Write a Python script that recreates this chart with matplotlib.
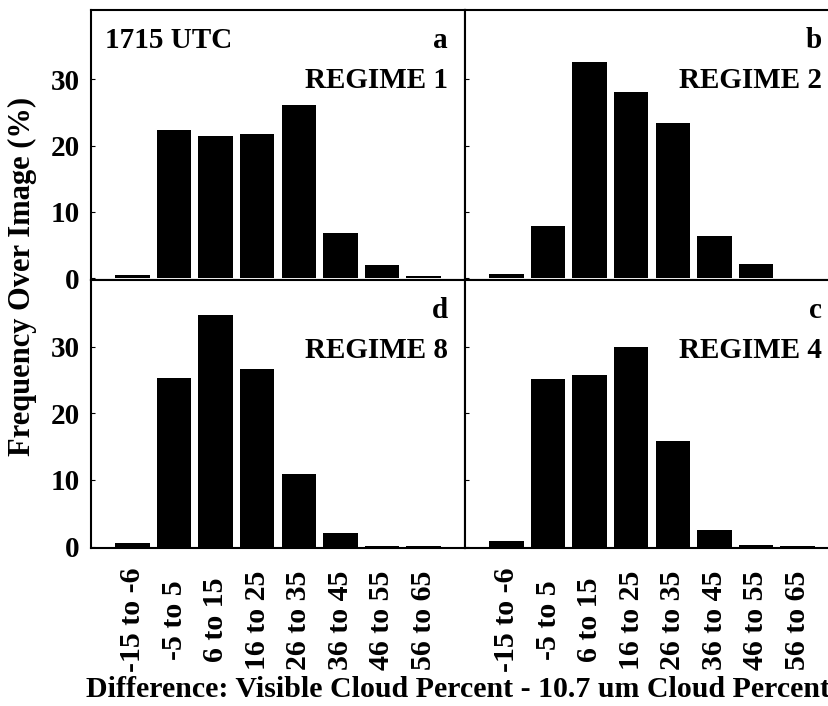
import numpy as np
import matplotlib
matplotlib.use("Agg")
from matplotlib import pyplot as plt

plt.rcParams['font.family'] = ['Liberation Serif', 'DejaVu Serif']
plt.rcParams['font.weight'] = 'bold'

# bins of the difference (visible minus 10.7 um cloud percent)
bins = ['-15 to -6', '-5 to 5', '6 to 15', '16 to 25',
        '26 to 35', '36 to 45', '46 to 55', '56 to 65']

# frequency over image (%) for each panel
regime1 = [0.5, 22.4, 21.5, 21.7, 26.2, 6.8, 1.9, 0.3]   # a
regime2 = [0.6, 7.9, 32.6, 28.1, 23.4, 6.3, 2.1, 0.05]   # b
regime8 = [0.5, 25.3, 34.8, 26.6, 10.9, 2.0, 0.05, 0.05]  # d
regime4 = [0.9, 25.2, 25.8, 29.9, 15.9, 2.5, 0.25, 0.05]  # c

yticks = [0, 10, 20, 30]

W, H = 829, 706
fig = plt.figure(figsize=(W / 100, H / 100), dpi=100)

def px_axes(x0, y_top, x1, y_bot):
    return fig.add_axes([x0 / W, 1 - y_bot / H, (x1 - x0) / W, (y_bot - y_top) / H])

ax_a = px_axes(91, 10, 465, 280)
ax_b = px_axes(465, 10, 839, 280)
ax_d = px_axes(91, 280, 465, 548)
ax_c = px_axes(465, 280, 839, 548)

panels = [
    (ax_a, regime1, 'a', 'REGIME 1', True, False, (-0.3, 40.5)),
    (ax_b, regime2, 'b', 'REGIME 2', False, False, (-0.3, 40.5)),
    (ax_d, regime8, 'd', 'REGIME 8', True, True, (-0.2, 40.0)),
    (ax_c, regime4, 'c', 'REGIME 4', False, True, (-0.2, 40.0)),
]

x = np.arange(1, len(bins) + 1)
fs = 21

for ax, vals, letter, regime, left, bottom, ylim in panels:
    ax.bar(x, vals, width=0.83, color='black')
    ax.set_xlim(0, 9)
    ax.set_ylim(*ylim)
    for s in ax.spines.values():
        s.set_linewidth(1.5)
    ax.set_yticks(yticks)
    ax.tick_params(axis='y', direction='in', length=3, width=0.8, pad=8,
                   labelsize=fs, labelleft=left)
    ax.set_xticks(x)
    if bottom:
        ax.set_xticklabels(bins, rotation=90, fontsize=21.5, va='center')
        ax.tick_params(axis='x', length=0, pad=52)
    else:
        ax.tick_params(axis='x', length=0, labelbottom=False)
    ax.annotate(letter, xy=(1, 1), xycoords='axes fraction', xytext=(-12.5, -27),
                textcoords='offset points', ha='right', va='baseline', fontsize=fs)
    ax.annotate(regime, xy=(1, 1), xycoords='axes fraction', xytext=(-12.5, -56),
                textcoords='offset points', ha='right', va='baseline', fontsize=fs)

ax_a.annotate('1715 UTC', xy=(0, 1), xycoords='axes fraction', xytext=(10, -27),
              textcoords='offset points', ha='left', va='baseline', fontsize=fs)

fig.text(22 / W, 1 - 276 / H, 'Frequency Over Image (%)', rotation=90,
         ha='center', va='center', fontsize=22)
fig.text(458 / W, 1 - 697 / H, 'Difference: Visible Cloud Percent - 10.7 um Cloud Percent',
         ha='center', va='baseline', fontsize=21.5)

fig.savefig('out.png', dpi=100)
